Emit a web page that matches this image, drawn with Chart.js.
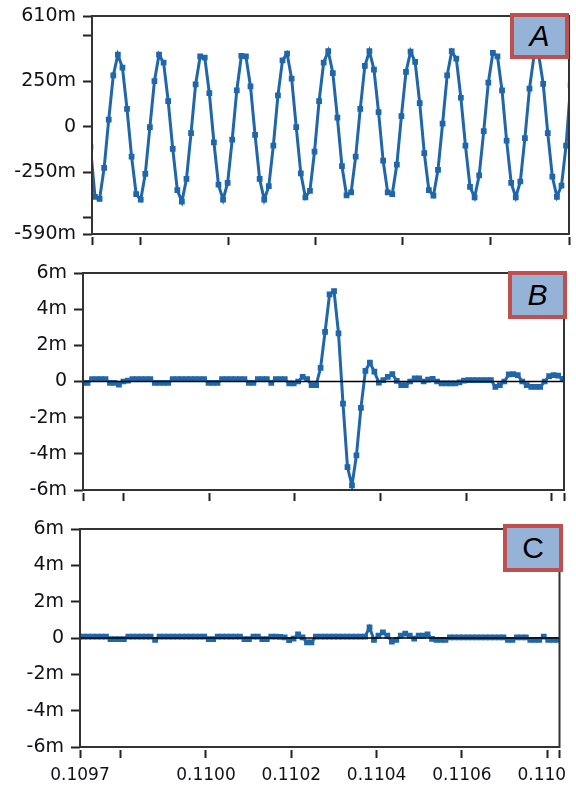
<!DOCTYPE html>
<html>
<head>
<meta charset="utf-8">
<title>Waveforms A / B / C</title>
<script src="https://cdn.jsdelivr.net/npm/chart.js@4.4.1/dist/chart.umd.min.js"></script>
<style>
  html, body { margin: 0; padding: 0; background: #fff; width: 576px; height: 788px; overflow: hidden; }
  .wrap { position: absolute; left: 0; overflow: hidden; }
  .wrap canvas { display: block; }
  .tag {
    position: absolute; box-sizing: border-box; z-index: 5;
    border: 4px solid #c0504d; background: #95b3d7; color: #000;
    font: 30px "Liberation Sans", Arial, sans-serif;
    display: flex; align-items: center; justify-content: center;
  }
  .tag.it { font-style: italic; }
</style>
</head>
<body>
<div class="wrap" style="top:0;width:576px;height:252px"><canvas id="chartA" width="576" height="252"></canvas></div>
<div class="wrap" style="top:250px;width:576px;height:260px"><canvas id="chartB" width="576" height="260"></canvas></div>
<div class="wrap" style="top:505px;width:565px;height:283px"><canvas id="chartC" width="565" height="283"></canvas></div>

<div class="tag it" style="left:510px;top:13px;width:59px;height:46px">A</div>
<div class="tag it" style="left:508px;top:271px;width:59px;height:48px">B</div>
<div class="tag" style="left:503px;top:524px;width:60px;height:48px">C</div>

<script>
// Sample spacing (s) shared by all three records
const SAMPLE_DT = 1.047e-5;

// Time of the first sample of each record (s)
const startA = 0.1096847;
const startB = 0.1097049;
const startC = 0.1097028;

// Record A, milli-units
const traceA = [
  -110, -385, -397, -226, 40, 283, 397, 326, 99, -164,
  -370, -401, -259, -2, 252, 397, 353, 142, -121, -348,
  -412, -287, -35, 234, 388, 381, 186, -85, -318, -401,
  -309, -70, 200, 390, 388, 222, -44, -287, -401, -327,
  -103, 173, 366, 403, 265, -2, -256, -388, -352, -136,
  142, 353, 416, 296, 50, -217, -377, -361, -164, 99,
  335, 416, 315, 81, -186, -361, -370, -208, 59, 302,
  414, 357, 131, -145, -348, -379, -237, 17, 283, 416,
  375, 160, -103, -330, -388, -267, -24, 243, 407, 388,
  200, -76, -309, -388, -301, -62, 210, 392, 400, 237,
  -35, -274, -385, -324, -103, 230
];

// Record B, milli-units
const traceB = [
  -0.07, -0.07, 0.13, 0.13, 0.13, 0.13, -0.07, -0.07, -0.17, 0,
  0.05, 0.13, 0.13, 0.13, 0.13, 0.13, -0.07, -0.07, -0.07, -0.07,
  0.13, 0.13, 0.13, 0.13, 0.13, 0.13, 0.13, 0.13, -0.07, -0.07,
  -0.07, 0.13, 0.13, 0.13, 0.13, 0.13, 0.13, -0.07, -0.07, 0.13,
  0.13, 0.13, -0.07, 0.13, 0.13, 0.13, -0.11, -0.11, 0, 0.26,
  0.13, -0.2, -0.2, 0.76, 2.75, 4.82, 5.0, 2.66, -1.22, -4.73,
  -5.75, -4.08, -1.46, 0.59, 1.04, 0.54, -0.06, 0.07, 0.26, 0.41,
  0.04, -0.2, -0.2, 0, 0.17, 0.17, 0, 0.1, 0.15, 0,
  -0.1, -0.1, -0.1, -0.1, -0.05, 0.05, 0.08, 0.08, 0.08, 0.08,
  0.08, 0.08, -0.3, -0.2, 0, 0.39, 0.41, 0.35, 0, -0.2,
  -0.3, -0.3, -0.3, 0, 0.3, 0.35, 0.32, 0.15
];

// Record C, milli-units
const traceC = [
  0.08, 0.08, 0.08, 0.08, 0.08, 0.08, 0.08, -0.06, -0.06, -0.06,
  -0.06, 0.08, 0.08, 0.08, 0.08, 0.08, 0.08, -0.1, 0.08, 0.08,
  0.08, 0.08, 0.08, 0.08, 0.08, 0.08, 0.08, 0.08, 0.08, -0.06,
  -0.06, 0.08, 0.08, 0.08, 0.08, 0.08, 0.08, -0.06, -0.06, 0.08,
  0.08, -0.06, -0.06, 0.08, 0.08, 0.06, 0.04, -0.12, -0.03, 0.2,
  0.04, -0.24, -0.24, 0.08, 0.08, 0.08, 0.08, 0.08, 0.08, 0.08,
  0.08, 0.08, 0.08, 0.08, 0.08, 0.59, -0.1, 0.13, 0.31, 0.13,
  -0.2, -0.1, 0.13, 0.24, 0.13, -0.03, 0.13, 0.13, 0.2, -0.05,
  -0.1, -0.1, -0.1, 0.04, 0.04, 0.04, 0.04, 0.04, 0.04, 0.04,
  0.04, 0.04, 0.04, 0.04, 0.04, 0.04, -0.1, -0.1, 0.04, 0.04,
  0.04, -0.1, -0.1, -0.1, 0.08, -0.1, -0.1, -0.1, -0.1
];

// Time-axis ticks: first and last entries are the axis limits
const xTicksA = [0.1096883, 0.1098, 0.1100, 0.1102, 0.1104, 0.1106, 0.1107803];
const xTicksB = [0.1097047, 0.1098, 0.1100, 0.1102, 0.1104, 0.1106, 0.1108, 0.1108285];
const xTicksC = [0.1097047, 0.1098, 0.1100, 0.1102, 0.1104, 0.1106, 0.1108, 0.1108287];
const xLabelsA = ['', '', '', '', '', '', ''];
const xLabelsB = ['', '', '', '', '', '', '', ''];
const xLabelsC = ['0.1097', '', '0.1100', '0.1102', '0.1104', '0.1106', '0.1108', ''];

// Amplitude ticks: first and last entries are the axis limits
const yTicksA = [-590, -500, -250, 0, 250, 500, 610];
const yLabelsA = ['-590m', '', '-250m', '0', '250m', '', '610m'];
const yTicksBC = [-6, -4, -2, 0, 2, 4, 6];
const yLabelsBC = ['-6m', '-4m', '-2m', '0', '2m', '4m', '6m'];

const TRACE_COLOR = '#1f67aa';
const TEXT_COLOR = '#111118';

// Dark rectangle around the plotting area
const plotFrame = {
  id: 'plotFrame',
  afterDraw(chart) {
    const { ctx, chartArea: a } = chart;
    ctx.save();
    ctx.strokeStyle = '#333';
    ctx.lineWidth = 2;
    ctx.strokeRect(a.left, a.top, a.right - a.left, a.bottom - a.top);
    ctx.restore();
  }
};

function makePanel(id, o) {
  const xMin = o.xTicks[0];
  const xMax = o.xTicks[o.xTicks.length - 1];
  const yMin = o.yTicks[0];
  const yMax = o.yTicks[o.yTicks.length - 1];
  const points = o.trace.map((v, i) => ({ x: o.t0 + i * SAMPLE_DT, y: v }));

  const datasets = [];
  if (o.zeroLine) {
    datasets.push({
      data: [{ x: xMin, y: 0 }, { x: xMax, y: 0 }],
      borderColor: '#000', borderWidth: 1.5, pointRadius: 0, order: 0, clip: 0
    });
  }
  datasets.push({
    data: points,
    borderColor: TRACE_COLOR, backgroundColor: TRACE_COLOR, borderWidth: 3,
    pointStyle: 'rect', pointRadius: 3, pointBorderWidth: 1.5,
    pointBackgroundColor: TRACE_COLOR, pointBorderColor: TRACE_COLOR,
    order: 1, clip: 0
  });

  return new Chart(document.getElementById(id), {
    type: 'line',
    data: { datasets },
    options: {
      responsive: false,
      animation: false,
      devicePixelRatio: 1,
      layout: { padding: { top: o.padTop, right: o.padRight, left: 0, bottom: 0 } },
      plugins: { legend: { display: false }, tooltip: { enabled: false } },
      elements: { line: { tension: 0 } },
      scales: {
        x: {
          type: 'linear', min: xMin, max: xMax, bounds: 'data',
          afterBuildTicks: s => { s.ticks = o.xTicks.map(v => ({ value: v })); },
          afterFit: s => { s.height = o.xAxisHeight; s.paddingLeft = 0; s.paddingRight = 0; },
          ticks: {
            autoSkip: false, maxRotation: 0, minRotation: 0, padding: 7,
            color: TEXT_COLOR, font: { family: 'DejaVu Sans', size: 17 },
            callback: (v, i) => o.xLabels[i]
          },
          grid: {
            display: true, drawOnChartArea: false, drawTicks: true,
            tickLength: 11, tickWidth: 2, tickColor: '#222', tickBorderDash: [0, 3, 8, 40]
          },
          border: { display: false }
        },
        y: {
          type: 'linear', min: yMin, max: yMax, bounds: 'data',
          afterBuildTicks: s => { s.ticks = o.yTicks.map(v => ({ value: v })); },
          afterFit: s => { s.width = o.yAxisWidth; s.paddingTop = 0; s.paddingBottom = 0; },
          ticks: {
            autoSkip: false, padding: 5,
            color: TEXT_COLOR, font: { family: 'DejaVu Sans', size: 19 },
            callback: (v, i) => o.yLabels[i]
          },
          grid: {
            display: true, drawOnChartArea: false, drawTicks: true,
            tickLength: 11, tickWidth: 2, tickColor: '#222', tickBorderDash: [0, 2, 9, 40]
          },
          border: { display: false }
        }
      }
    },
    plugins: [plotFrame]
  });
}

makePanel('chartA', {
  trace: traceA, t0: startA, zeroLine: false,
  xTicks: xTicksA, xLabels: xLabelsA, yTicks: yTicksA, yLabels: yLabelsA,
  padTop: 16, padRight: 7, yAxisWidth: 92, xAxisHeight: 18
});
makePanel('chartB', {
  trace: traceB, t0: startB, zeroLine: true,
  xTicks: xTicksB, xLabels: xLabelsB, yTicks: yTicksBC, yLabels: yLabelsBC,
  padTop: 23, padRight: 12, yAxisWidth: 83, xAxisHeight: 20
});
makePanel('chartC', {
  trace: traceC, t0: startC, zeroLine: true,
  xTicks: xTicksC, xLabels: xLabelsC, yTicks: yTicksBC, yLabels: yLabelsBC,
  padTop: 24, padRight: 2, yAxisWidth: 80, xAxisHeight: 41
});
</script>
</body>
</html>
